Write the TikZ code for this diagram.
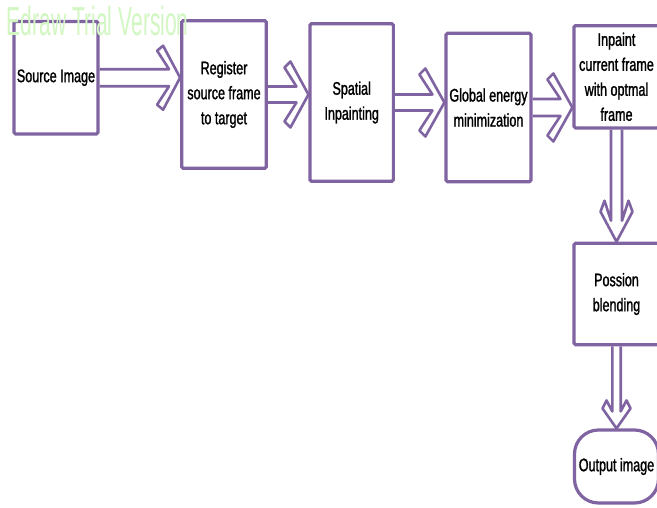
\documentclass[tikz,border=0pt]{standalone}
\usepackage{fontspec}
\setmainfont{Liberation Sans}[FakeStretch=0.69,FakeBold=1.3]
\newfontfamily\wmfont{Liberation Sans}[FakeStretch=0.52]
\usetikzlibrary{calc}
\definecolor{edpurple}{RGB}{128,100,162}
\definecolor{wmgreen}{RGB}{210,247,195}
% horizontal hollow arrow: #1 from, #2 to, #3 s, #4 H, #5 L, #6 Bback, #7 Bv, #8 Cback
\newcommand\hollowh[8]{%
 \draw[hollowarrow] let \p1=(#1.east), \p2=(#2.west |- #1.east) in
   (\x1,{\y1+#3pt}) -- ({\x2-#8pt},{\y1+#3pt}) -- ({\x2-#6pt},{\y1+#7pt}) -- ({\x2-#5pt},{\y1+#4pt})
   -- (\p2) -- ({\x2-#5pt},{\y1-#4pt}) -- ({\x2-#6pt},{\y1-#7pt}) -- ({\x2-#8pt},{\y1-#3pt}) -- (\x1,{\y1-#3pt});}
% vertical hollow arrow (downwards)
\newcommand\hollowv[8]{%
 \draw[hollowarrow] let \p1=(#1.south), \p2=(#1.south |- #2.north) in
   ({\x1-#3pt},\y1) -- ({\x1-#3pt},{\y2+#8pt}) -- ({\x1-#7pt},{\y2+#6pt}) -- ({\x1-#4pt},{\y2+#5pt})
   -- (\p2) -- ({\x1+#4pt},{\y2+#5pt}) -- ({\x1+#7pt},{\y2+#6pt}) -- ({\x1+#3pt},{\y2+#8pt}) -- ({\x1+#3pt},\y1);}
\begin{document}
\begin{tikzpicture}[x=1pt,y=-1pt,
  box/.style={draw=edpurple, line width=3.2pt, fill=white, rounded corners=1.5pt,
    inner sep=0pt, align=center, font=\fontsize{18.2}{25}\selectfont},
  hollowarrow/.style={draw=edpurple, line width=2.6pt, line join=round}]
\useasboundingbox (0,0) rectangle (657,507);
\fill[white] (0,0) rectangle (657,507);
\node[box, minimum width=84pt, minimum height=112.5pt] (src) at (56,77.7) {Source Image};
\node[box, minimum width=84.6pt, minimum height=147.6pt] (reg) at (224,94.5) {Register\\source frame\\to target};
\node[box, minimum width=83.3pt, minimum height=157.6pt] (spa) at (351.7,102.5) {Spatial\\Inpainting};
\node[box, minimum width=85pt, minimum height=148.4pt] (glo) at (488.5,107.5) {Global energy\\minimization};
\node[box, minimum width=85pt, minimum height=102.3pt] (inp) at (616.5,76.8) {Inpaint\\current frame\\with optmal\\frame};
\node[box, minimum width=85pt, minimum height=101.4pt] (pos) at (616.5,294) {Possion\\blending};
\node[box, rounded corners=24pt, minimum width=84pt, minimum height=73pt] (out) at (616.5,466.5) {Output image};
\hollowh{src}{reg}{8.5}{32}{17}{23}{27}{11}
\hollowh{reg}{spa}{8}{33}{18}{24}{27}{12}
\hollowh{spa}{glo}{8}{34}{19}{25}{28}{12}
\hollowh{glo}{inp}{8.5}{34}{19}{25}{28}{12}
\hollowv{inp}{pos}{5.5}{16}{30}{41}{12}{21}
\hollowv{pos}{out}{4.2}{14}{20}{28}{10}{17}
\node[font=\wmfont\fontsize{40.5}{40}\selectfont, text=wmgreen, anchor=base west, inner sep=0pt] (wm) at (6.7,35) {Edraw Trial Version};
\end{tikzpicture}
\end{document}
